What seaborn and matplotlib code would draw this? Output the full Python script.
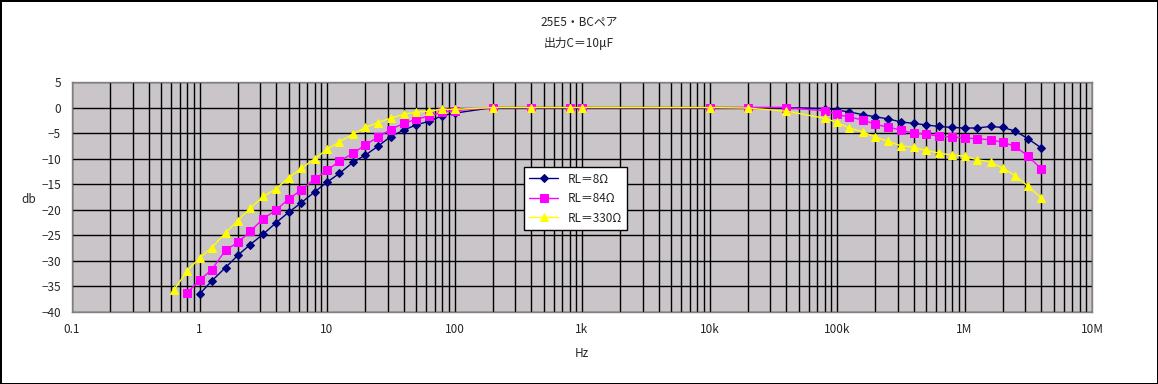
import numpy as np
import pandas as pd
import matplotlib
matplotlib.use("Agg")
import matplotlib.pyplot as plt
import matplotlib.ticker as mticker
import seaborn as sns

# ---- data ----
freq_8 = [1, 1.25, 1.6, 2, 2.5, 3.15, 4, 5, 6.3, 8, 10, 12.5, 16, 20, 25, 31.5, 40, 50, 63, 80, 100,
          200, 400, 800, 1000, 10000, 20000, 40000,
          80e3, 100e3, 125e3, 160e3, 200e3, 250e3, 315e3, 400e3, 500e3, 630e3, 800e3,
          1e6, 1.25e6, 1.6e6, 2e6, 2.5e6, 3.15e6, 4e6]
db_8 = [-36.5, -33.9, -31.3, -28.9, -26.8, -24.8, -22.5, -20.5, -18.6, -16.5, -14.6, -12.9, -10.7,
        -9.3, -7.6, -5.7, -4.4, -3.4, -2.7, -1.6, -1.1,
        0, 0, 0, 0, 0, 0, 0,
        -0.2, -0.5, -0.85, -1.4, -1.8, -2.2, -2.8, -3.1, -3.4, -3.7, -3.9,
        -4.0, -4.0, -3.7, -3.9, -4.6, -6.1, -7.9]

freq_84 = [0.8, 1, 1.25, 1.6, 2, 2.5, 3.15, 4, 5, 6.3, 8, 10, 12.5, 16, 20, 25, 31.5, 40, 50, 63, 80, 100,
           200, 400, 800, 1000, 10000, 20000, 40000,
           80e3, 100e3, 125e3, 160e3, 200e3, 250e3, 315e3, 400e3, 500e3, 630e3, 800e3,
           1e6, 1.25e6, 1.6e6, 2e6, 2.5e6, 3.15e6, 4e6]
db_84 = [-36.2, -33.8, -31.7, -27.9, -26.4, -24.2, -21.8, -20.0, -17.9, -16.1, -14.0, -12.3, -10.5,
         -8.95, -7.3, -5.8, -4.3, -3.1, -2.3, -1.65, -0.9, -0.6,
         0, 0, 0, 0, 0, 0, 0,
         -0.65, -1.3, -1.9, -2.4, -3.3, -3.8, -4.4, -5.0, -5.2, -5.6, -5.75,
         -5.95, -6.1, -6.3, -6.8, -7.6, -9.5, -12.0]

freq_330 = [0.63, 0.8, 1, 1.25, 1.6, 2, 2.5, 3.15, 4, 5, 6.3, 8, 10, 12.5, 16, 20, 25, 31.5, 40, 50, 63, 80, 100,
            200, 400, 800, 1000, 10000, 20000, 40000,
            80e3, 100e3, 125e3, 160e3, 200e3, 250e3, 315e3, 400e3, 500e3, 630e3, 800e3,
            1e6, 1.25e6, 1.6e6, 2e6, 2.5e6, 3.15e6, 4e6]
db_330 = [-35.7, -32.0, -29.4, -27.4, -24.5, -22.1, -19.7, -17.4, -15.9, -13.7, -11.9, -10.0, -8.2,
          -6.7, -5.2, -3.9, -2.95, -2.1, -1.3, -0.9, -0.7, -0.35, -0.35,
          0, 0, 0, 0, 0, -0.1, -0.7,
          -2.1, -2.9, -4.0, -4.8, -5.75, -6.6, -7.45, -7.8, -8.4, -8.9, -9.3,
          -9.5, -10.2, -10.6, -11.9, -13.3, -15.4, -17.7]

series_names = ["RL＝8Ω", "RL＝84Ω", "RL＝330Ω"]
x_ticks = [0.1, 1, 10, 100, 1e3, 1e4, 1e5, 1e6, 1e7]
x_tick_labels = ["0.1", "1", "10", "100", "1k", "10k", "100k", "1M", "10M"]
y_ticks = list(range(-40, 6, 5))

df = pd.concat([
    pd.DataFrame({"Hz": freq_8, "db": db_8, "series": series_names[0]}),
    pd.DataFrame({"Hz": freq_84, "db": db_84, "series": series_names[1]}),
    pd.DataFrame({"Hz": freq_330, "db": db_330, "series": series_names[2]}),
], ignore_index=True)

# ---- style ----
sns.set_style("white")
plt.rcParams["font.family"] = ["Noto Sans CJK JP", "DejaVu Sans"]

fig = plt.figure(figsize=(11.58, 3.84), dpi=100)
fig.patch.set_facecolor("white")
ax = fig.add_axes([72 / 1158, 1 - 312 / 384, 1020 / 1158, 230 / 384])
ax.set_facecolor("#c9c5c9")

palette = {series_names[0]: "#000080", series_names[1]: "#ff00ff", series_names[2]: "#ffff00"}
markers = {series_names[0]: "D", series_names[1]: "s", series_names[2]: "^"}
sizes = {series_names[0]: 3.8, series_names[1]: 5.5, series_names[2]: 5.8}

for name in series_names:
    sub = df[df["series"] == name]
    sns.lineplot(data=sub, x="Hz", y="db", ax=ax, color=palette[name], marker=markers[name],
                 markersize=sizes[name], markeredgecolor=palette[name], linewidth=1.0,
                 sort=False, estimator=None, label=name, zorder=3)

ax.set_xscale("log")
ax.set_xlim(0.1, 1e7)
ax.set_ylim(-40, 5)
ax.set_xticks(x_ticks)
ax.set_xticklabels(x_tick_labels)
ax.xaxis.set_minor_locator(mticker.LogLocator(base=10, subs=np.arange(2, 10), numticks=100))
ax.xaxis.set_minor_formatter(mticker.NullFormatter())
ax.set_yticks(y_ticks)

ax.grid(True, which="major", color="black", linewidth=1.0, zorder=1)
ax.grid(True, which="minor", axis="x", color="black", linewidth=1.0, zorder=1)
ax.set_axisbelow(True)

ax.tick_params(axis="both", which="major", labelsize=8.5, length=3, color="#808080", pad=5)
ax.tick_params(axis="x", which="minor", length=0)
for sp in ax.spines.values():
    sp.set_color("#808080")
    sp.set_linewidth(1.0)

ax.set_xlabel("Hz", fontsize=8.5, labelpad=8)
ax.set_ylabel("db", fontsize=8.5, rotation=0)
ax.yaxis.set_label_coords(-0.042, 0.46)

fig.text(0.5, 1 - 22 / 384, "25E5・BCペア", ha="center", va="center", fontsize=8.5)
fig.text(0.5, 1 - 43 / 384, "出力C＝10μF", ha="center", va="center", fontsize=8.5)

leg = ax.legend(loc="upper left", bbox_to_anchor=(0.437, 0.655), fontsize=8.5, frameon=True,
                fancybox=False, edgecolor="black", framealpha=1, borderpad=0.45,
                labelspacing=0.55, handlelength=2.5)
leg.get_frame().set_linewidth(1.0)

fig.patch.set_edgecolor("black")
fig.patch.set_linewidth(2)
fig.savefig("out.png", dpi=100, facecolor="white", edgecolor="black")
